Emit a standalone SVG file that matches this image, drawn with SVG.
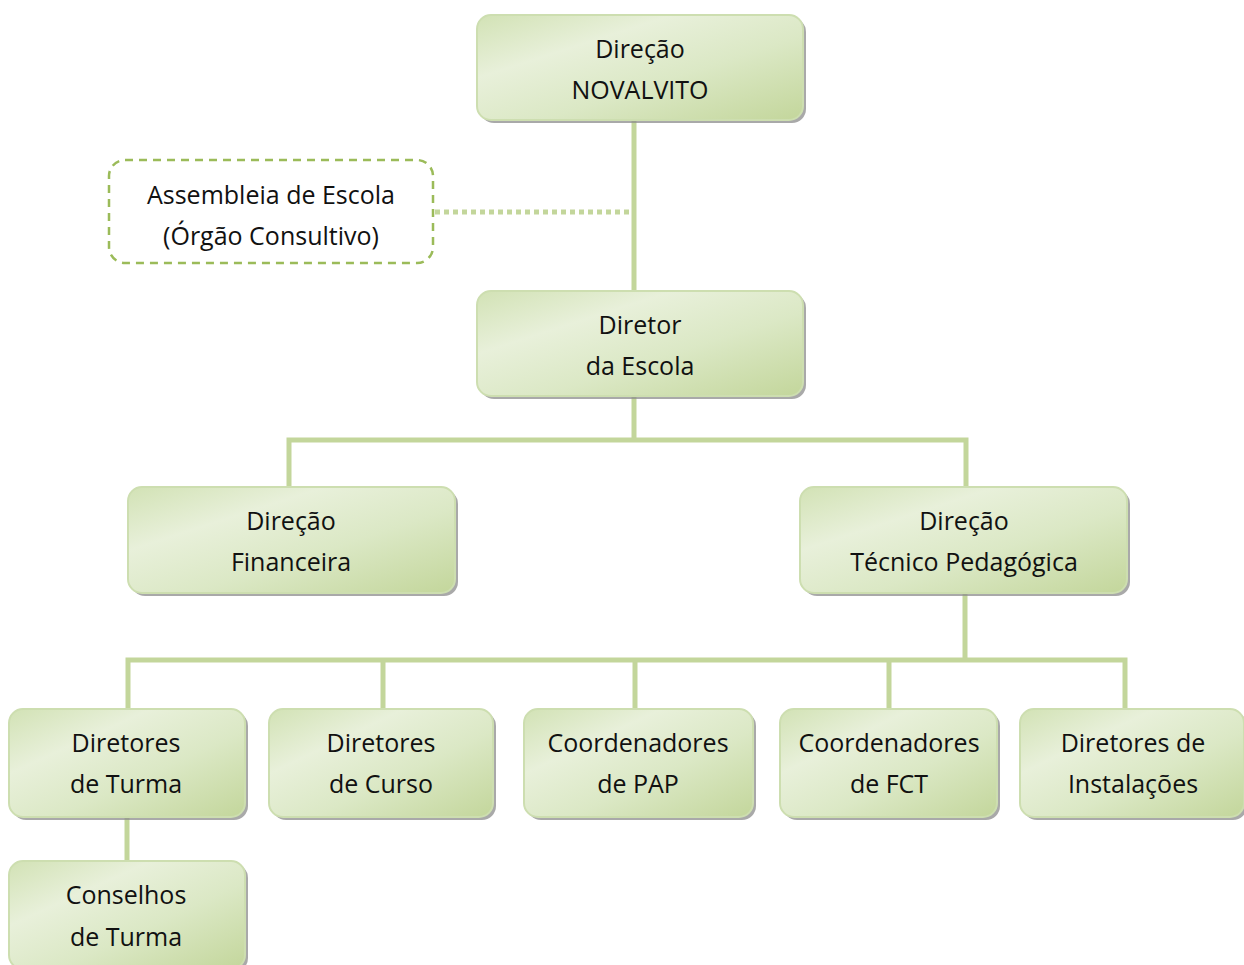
<svg xmlns="http://www.w3.org/2000/svg" width="1244" height="965" viewBox="0 0 1244 965">
<defs>
<linearGradient id="g" x1="0" y1="0" x2="1" y2="1">
<stop offset="0" stop-color="#d2e2b5"/>
<stop offset="0.3" stop-color="#e8f0da"/>
<stop offset="0.6" stop-color="#dbe8c5"/>
<stop offset="1" stop-color="#c3d69b"/>
</linearGradient>
</defs>
<style>
.box{fill:url(#g);stroke:#cddeb0;stroke-width:2}
.sh{fill:#8c8c8c;opacity:0.75}
.t{font-family:"Open Sans","Noto Sans",sans-serif;font-size:25px;fill:#111;text-anchor:middle}
.ln{stroke:#c3d69b;stroke-width:5;fill:none}
</style>
<g id="connectors">
<path class="ln" d="M634 120V291"/>
<path d="M435 212H632" stroke="#c3d69b" stroke-width="5" stroke-dasharray="5 4" fill="none"/>
<path class="ln" d="M634 396V440M289 488V440H966V488"/>
<path class="ln" d="M965 593V660M128 709V660H1125V709M383 660V709M635 660V709M889 660V709"/>
<path class="ln" d="M127 817V861"/>
</g>
<g id="n1"><rect class="sh" x="480" y="18" width="326" height="105" rx="14"/><rect class="box" x="477" y="15" width="326" height="105" rx="14"/><text class="t" x="640" y="58">Direção</text><text class="t" x="640" y="99">NOVALVITO</text></g>
<g id="n2"><rect x="109" y="160" width="324" height="103" rx="16" fill="#fff" stroke="#9bbb59" stroke-width="2.5" stroke-dasharray="8 6"/><text class="t" x="271" y="204">Assembleia de Escola</text><text class="t" x="271" y="245">(Órgão Consultivo)</text></g>
<g id="n3"><rect class="sh" x="480" y="294" width="326" height="105" rx="14"/><rect class="box" x="477" y="291" width="326" height="105" rx="14"/><text class="t" x="640" y="334">Diretor</text><text class="t" x="640" y="375">da Escola</text></g>
<g id="n4"><rect class="sh" x="131" y="490" width="327" height="106" rx="14"/><rect class="box" x="128" y="487" width="327" height="106" rx="14"/><text class="t" x="291" y="530">Direção</text><text class="t" x="291" y="571">Financeira</text></g>
<g id="n5"><rect class="sh" x="803" y="490" width="327" height="106" rx="14"/><rect class="box" x="800" y="487" width="327" height="106" rx="14"/><text class="t" x="964" y="530">Direção</text><text class="t" x="964" y="571">Técnico Pedagógica</text></g>
<g id="n6"><rect class="sh" x="12" y="712" width="236" height="108" rx="14"/><rect class="box" x="9" y="709" width="236" height="108" rx="14"/><text class="t" x="126" y="752">Diretores</text><text class="t" x="126" y="793">de Turma</text></g>
<g id="n7"><rect class="sh" x="272" y="712" width="224" height="108" rx="14"/><rect class="box" x="269" y="709" width="224" height="108" rx="14"/><text class="t" x="381" y="752">Diretores</text><text class="t" x="381" y="793">de Curso</text></g>
<g id="n8"><rect class="sh" x="527" y="712" width="229" height="108" rx="14"/><rect class="box" x="524" y="709" width="229" height="108" rx="14"/><text class="t" x="638" y="752">Coordenadores</text><text class="t" x="638" y="793">de PAP</text></g>
<g id="n9"><rect class="sh" x="783" y="712" width="217" height="108" rx="14"/><rect class="box" x="780" y="709" width="217" height="108" rx="14"/><text class="t" x="889" y="752">Coordenadores</text><text class="t" x="889" y="793">de FCT</text></g>
<g id="n10"><rect class="sh" x="1023" y="712" width="224" height="108" rx="14"/><rect class="box" x="1020" y="709" width="224" height="108" rx="14"/><text class="t" x="1133" y="752">Diretores de</text><text class="t" x="1133" y="793">Instalações</text></g>
<g id="n11"><rect class="sh" x="12" y="864" width="236" height="108" rx="14"/><rect class="box" x="9" y="861" width="236" height="108" rx="14"/><text class="t" x="126" y="904">Conselhos</text><text class="t" x="126" y="946">de Turma</text></g>
</svg>
